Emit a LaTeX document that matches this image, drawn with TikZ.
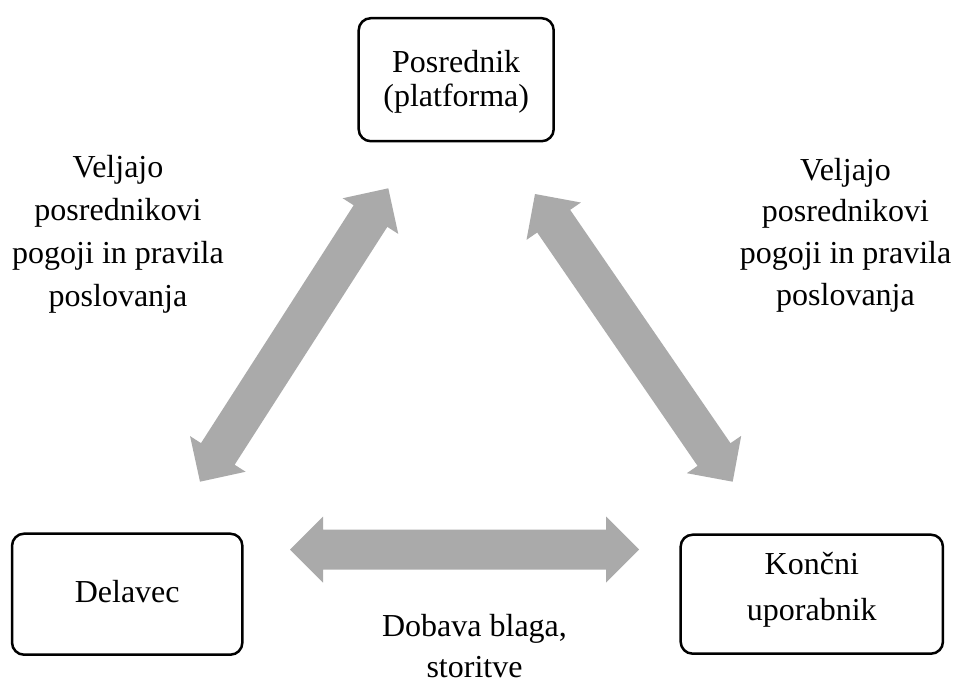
\documentclass[tikz,border=0pt]{standalone}
\usepackage{fontspec}
\setmainfont{Liberation Serif}
\usetikzlibrary{calc}
\definecolor{arrgray}{RGB}{170,170,170}
\newcommand\BlockArrow[2]{%
  \coordinate (#1h) at ($(#1)!33pt!(#2)$);
  \coordinate (#2h) at ($(#2)!33pt!(#1)$);
  \fill[arrgray] (#1) -- ($(#1h)!33pt!90:(#2)$) -- ($(#1h)!20pt!90:(#2)$)
    -- ($(#2h)!20pt!-90:(#1)$) -- ($(#2h)!33pt!-90:(#1)$) -- (#2)
    -- ($(#2h)!33pt!90:(#1)$) -- ($(#2h)!20pt!90:(#1)$)
    -- ($(#1h)!20pt!-90:(#2)$) -- ($(#1h)!33pt!-90:(#2)$) -- cycle;
}
\begin{document}
\begin{tikzpicture}[x=1pt,y=-1pt,
  box/.style={draw=black, line width=2.5pt, rounded corners=12pt, inner sep=0pt},
  lbl/.style={inner sep=0pt, anchor=base, font=\fontsize{32}{42.5}\selectfont}]
\useasboundingbox (0,0) rectangle (955,682);

% boxes
\node[box, minimum width=195pt, minimum height=123pt] (pos) at (456.2,79.7)
  {\fontsize{32}{33.3}\selectfont\raisebox{-3pt}[\height][\depth]{\begin{tabular}{@{}c@{}}Posrednik\\(platforma)\end{tabular}}};
\node[box, minimum width=230.3pt, minimum height=121pt] (del) at (127.2,594.2)
  {\fontsize{32}{42.5}\selectfont\begin{tabular}{@{}c@{}}Delavec\end{tabular}};
\node[box, minimum width=262.3pt, minimum height=119pt] (kon) at (811.8,594.2)
  {\fontsize{32}{45.7}\selectfont\raisebox{6pt}[\height][\depth]{\begin{tabular}{@{}c@{}}Kon\v{c}ni\\uporabnik\end{tabular}}};

% labels
\begin{scope}
  \clip (0,0) rectangle (340,312);
  \node[lbl, font=\fontsize{32}{43.3}\selectfont] (lt) at (118,177)
    {\begin{tabular}[t]{@{}c@{}}Veljajo\\posrednikovi\\pogoji in pravila\\poslovanja\end{tabular}};
\end{scope}
\node[lbl, font=\fontsize{32}{41.8}\selectfont] (rt) at (845.5,180)
  {\begin{tabular}[t]{@{}c@{}}Veljajo\\posrednikovi\\pogoji in pravila\\poslovanja\end{tabular}};
\node[lbl, font=\fontsize{32}{41}\selectfont] (bt) at (474.5,636.3)
  {\begin{tabular}[t]{@{}c@{}}Dobava blaga,\\storitve\end{tabular}};

% block arrows
\coordinate (a1) at (388.3,188.3);
\coordinate (a2) at (200,481.7);
\coordinate (b1) at (535,194);
\coordinate (b2) at (732.7,481.7);
\coordinate (c1) at (290,549.5);
\coordinate (c2) at (639,549.5);
\BlockArrow{a1}{a2}
\BlockArrow{b1}{b2}
\BlockArrow{c1}{c2}
\end{tikzpicture}
\end{document}
